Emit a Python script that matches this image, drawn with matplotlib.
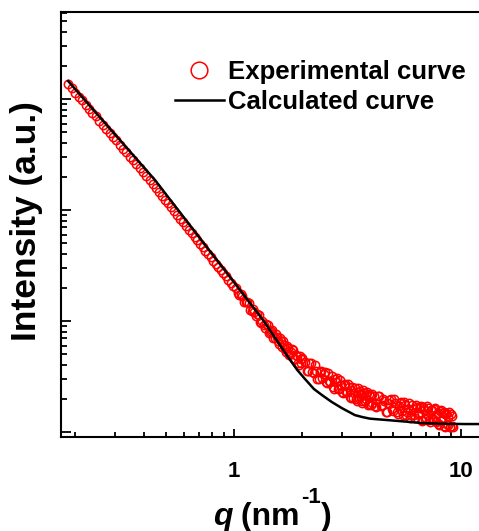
import matplotlib
matplotlib.use("Agg")
import matplotlib.pyplot as plt
from matplotlib.ticker import LogLocator, NullFormatter

# experimental SAXS curve (q in nm^-1, intensity in a.u.)
q_exp_low = [0.186, 0.193, 0.200, 0.207, 0.214, 0.222, 0.230, 0.238, 0.246, 0.255,
             0.264, 0.273, 0.283, 0.293, 0.303, 0.314, 0.325, 0.336, 0.348, 0.360,
             0.372, 0.385, 0.398, 0.411, 0.425, 0.439, 0.453, 0.468, 0.483, 0.498,
             0.514, 0.530, 0.546, 0.563, 0.580, 0.597, 0.615, 0.633, 0.651, 0.670,
             0.689, 0.708, 0.728, 0.748, 0.768, 0.789, 0.810, 0.831, 0.853, 0.875,
             0.897, 0.920, 0.943, 0.966, 0.990]
I_exp_low = [1361, 1245, 1143, 1052, 973, 891, 818, 754, 697, 639,
             588, 542, 498, 458, 423, 388, 357, 330, 303, 280,
             259, 238, 220, 204, 188, 173, 159, 146, 135, 124,
             115, 106, 97.9, 90.4, 83.6, 77.6, 71.8, 66.6, 61.9, 57.4,
             53.4, 49.8, 46.3, 43.1, 40.3, 37.5, 35.0, 32.8, 30.6, 28.6,
             26.9, 25.2, 23.6, 22.1, 20.8]

q_exp_mid = [1.020, 1.055, 1.090, 1.125, 1.160, 1.195, 1.230, 1.265, 1.300, 1.335,
             1.370, 1.405, 1.440, 1.475, 1.510, 1.545, 1.580, 1.615, 1.650, 1.685,
             1.720, 1.755, 1.790, 1.825, 1.860, 1.895, 1.930, 1.965, 2.000,
             1.0375, 1.0725, 1.1075, 1.1425, 1.1775, 1.2125, 1.2475, 1.2825, 1.3175, 1.3525,
             1.3875, 1.4225, 1.4575, 1.4925, 1.5275, 1.5625, 1.5975, 1.6325, 1.6675, 1.7025,
             1.7375, 1.7725, 1.8075, 1.8425, 1.8775, 1.9125, 1.9475, 1.9825]
I_exp_mid = [19.68, 17.14, 16.87, 14.76, 14.42, 12.33, 12.08, 11.59, 9.86, 9.93,
             8.71, 9.12, 7.96, 8.28, 6.98, 7.24, 6.25, 6.65, 6.58, 5.61,
             5.93, 4.99, 5.27, 5.46, 4.54, 4.82, 4.02, 4.56, 4.68,
             17.78, 17.68, 14.84, 14.74, 12.52, 12.82, 11.17, 11.35, 9.52, 9.28,
             9.39, 7.85, 8.21, 7.03, 7.68, 6.64, 7.06, 5.86, 6.07, 5.24,
             5.77, 5.01, 5.55, 4.57, 4.90, 4.17, 4.80, 4.19]

q_exp_tail = [2.06, 2.12, 2.18, 2.24, 2.30, 2.36, 2.42, 2.48, 2.54, 2.60,
              2.66, 2.72, 2.78, 2.84, 2.90, 2.96, 3.02, 3.08, 3.14, 3.20,
              3.26, 3.32, 3.38, 3.44, 3.50, 3.56, 3.62, 3.68, 3.74, 3.80,
              3.86, 3.92, 3.98, 4.04,
              2.09, 2.15, 2.21, 2.27, 2.33, 2.39, 2.45, 2.51, 2.57, 2.63,
              2.69, 2.75, 2.81, 2.87, 2.93, 2.99, 3.05, 3.11, 3.17, 3.23,
              3.29, 3.35, 3.41, 3.47, 3.53, 3.59, 3.65, 3.71, 3.77, 3.83,
              3.89, 3.95, 4.01, 4.07]
I_exp_tail = [4.30, 3.52, 4.17, 3.43, 3.55, 2.99, 3.56, 3.30, 2.82, 3.37,
              2.83, 2.54, 2.98, 3.08, 2.44, 2.65, 2.23, 2.72, 2.30, 2.52,
              2.04, 2.54, 2.27, 2.00, 2.51, 2.02, 2.19, 1.84, 2.26, 1.97,
              2.30, 1.80, 2.09, 1.83,
              3.54, 4.15, 3.49, 4.05, 3.00, 3.49, 3.09, 3.48, 2.75, 2.87,
              3.17, 2.42, 2.84, 2.44, 2.94, 2.29, 2.66, 2.29, 2.73, 2.08,
              2.37, 2.04, 2.47, 1.89, 2.30, 2.36, 1.89, 2.38, 1.89, 2.15,
              1.75, 2.18, 1.75, 2.18]

q_exp_high = [4.12, 4.24, 4.36, 4.48, 4.60, 4.72, 4.84, 4.96, 5.08, 5.20,
              5.32, 5.44, 5.56, 5.68, 5.80, 5.92, 6.04, 6.16, 6.28, 6.40,
              6.52, 6.64, 6.76, 6.88, 7.00, 7.12, 7.24, 7.36, 7.48, 7.60,
              7.72, 7.84, 7.96, 8.08, 8.20, 8.32, 8.44, 8.56, 8.68, 8.80,
              8.92, 9.04, 9.16,
              4.18, 4.30, 4.42, 4.54, 4.66, 4.78, 4.90, 5.02, 5.14, 5.26,
              5.38, 5.50, 5.62, 5.74, 5.86, 5.98, 6.10, 6.22, 6.34, 6.46,
              6.58, 6.70, 6.82, 6.94, 7.06, 7.18, 7.30, 7.42, 7.54, 7.66,
              7.78, 7.90, 8.02, 8.14, 8.26, 8.38, 8.50, 8.62, 8.74, 8.86,
              8.98, 9.10, 9.22]
I_exp_high = [2.12, 1.69, 2.13, 1.74, 1.92, 1.53, 1.95, 1.60, 2.00, 1.51,
              1.70, 1.86, 1.42, 1.74, 1.52, 1.83, 1.43, 1.62, 1.35, 1.68,
              1.47, 1.71, 1.27, 1.57, 1.35, 1.63, 1.28, 1.57, 1.34, 1.62,
              1.22, 1.44, 1.18, 1.54, 1.25, 1.47, 1.13, 1.47, 1.17, 1.38,
              1.10, 1.44, 1.14,
              1.70, 2.13, 1.72, 1.98, 1.53, 1.83, 1.98, 1.54, 1.81, 1.45,
              1.83, 1.54, 1.88, 1.43, 1.62, 1.34, 1.74, 1.42, 1.77, 1.44,
              1.64, 1.29, 1.67, 1.32, 1.71, 1.41, 1.23, 1.58, 1.32, 1.63,
              1.25, 1.47, 1.16, 1.57, 1.30, 1.52, 1.11, 1.44, 1.15, 1.50,
              1.10, 1.39, 1.11]

# calculated (model) curve
q_calc = [0.186, 0.282, 0.449, 0.708, 1.0, 1.343, 1.73, 1.90, 2.056, 2.25,
          2.443, 2.69, 2.99, 3.41, 3.70, 3.97, 4.76, 5.75, 6.73, 7.94, 10.4, 12.5]
I_calc = [1452, 550, 186, 55.6, 22.4, 10.2, 4.74, 3.62, 3.00, 2.44,
          2.15, 1.87, 1.64, 1.42, 1.36, 1.32, 1.28, 1.24, 1.205, 1.19, 1.18, 1.18]

q_exp = q_exp_low + q_exp_mid + q_exp_tail + q_exp_high
I_exp = I_exp_low + I_exp_mid + I_exp_tail + I_exp_high

plt.rcParams['font.family'] = ['Liberation Sans', 'DejaVu Sans']
plt.rcParams['font.weight'] = 'bold'

fig = plt.figure(figsize=(4.79, 5.31), dpi=100)
ax = fig.add_axes([61 / 479, 1 - 437 / 531, 418 / 479, 425 / 531])

ax.plot(q_exp, I_exp, 'o', ms=6.0, mfc='none', mec='#ff0000', mew=1.1,
        label='Experimental curve', zorder=2)
ax.plot(q_calc, I_calc, '-', color='black', lw=1.8,
        label='Calculated curve', zorder=3)

ax.set_xscale('log')
ax.set_yscale('log')
ax.set_xlim(0.173, 12.0)
ax.set_ylim(0.902, 6080)

ax.set_xticks([1, 10])
ax.set_xticklabels(['1', '10'])
ax.xaxis.set_minor_locator(LogLocator(base=10, subs=[2, 3, 4, 5, 6, 7, 8, 9]))
ax.xaxis.set_minor_formatter(NullFormatter())
ax.yaxis.set_major_locator(LogLocator(base=10, numticks=10))
ax.yaxis.set_minor_locator(LogLocator(base=10, subs=[2, 3, 4, 5, 6, 7, 8, 9], numticks=10))
ax.yaxis.set_major_formatter(NullFormatter())
ax.yaxis.set_minor_formatter(NullFormatter())

ax.tick_params(which='both', direction='in', top=False, right=False, width=1.3)
ax.tick_params(axis='y', which='major', length=7)
ax.tick_params(axis='y', which='minor', length=4)
ax.tick_params(axis='x', which='major', length=6, pad=17, labelsize=16)
ax.tick_params(axis='x', which='minor', length=3.5)
for lab in ax.get_xticklabels():
    lab.set_fontweight('bold')

for side in ['left', 'bottom', 'top']:
    ax.spines[side].set_linewidth(1.5)
ax.spines['right'].set_visible(False)

fig.text(0.055, 0.583, 'Intensity (a.u.)', rotation=90, ha='center', va='center',
         fontsize=25.5, fontweight='bold')

# x label built from pieces: italic q, "(nm", raised "-1", ")"
renderer = fig.canvas.get_renderer()
base_y = 1 - 525 / 531
t1 = fig.text(213 / 479, base_y, 'q', fontsize=23, fontweight='bold', fontstyle='italic',
              ha='left', va='baseline')
x1 = t1.get_window_extent(renderer).x1 / fig.bbox.width
t2 = fig.text(x1, base_y, ' (nm', fontsize=23, fontweight='bold', ha='left', va='baseline')
x2 = t2.get_window_extent(renderer).x1 / fig.bbox.width
t3 = fig.text(x2 + 1 / 479, 1 - 503 / 531, '-1', fontsize=16, fontweight='bold',
              ha='left', va='baseline')
x3 = t3.get_window_extent(renderer).x1 / fig.bbox.width
fig.text(x3, base_y, ')', fontsize=23, fontweight='bold', ha='left', va='baseline')

ax.legend(loc='upper left', bbox_to_anchor=(175 / 479, 1 - 60 / 531),
          bbox_transform=fig.transFigure, frameon=False, borderpad=0,
          borderaxespad=0, labelspacing=0.25, handlelength=1.9,
          handletextpad=0.15, markerscale=2.0, prop={'size': 18.5, 'weight': 'bold'})

fig.savefig('out.png', dpi=100)
